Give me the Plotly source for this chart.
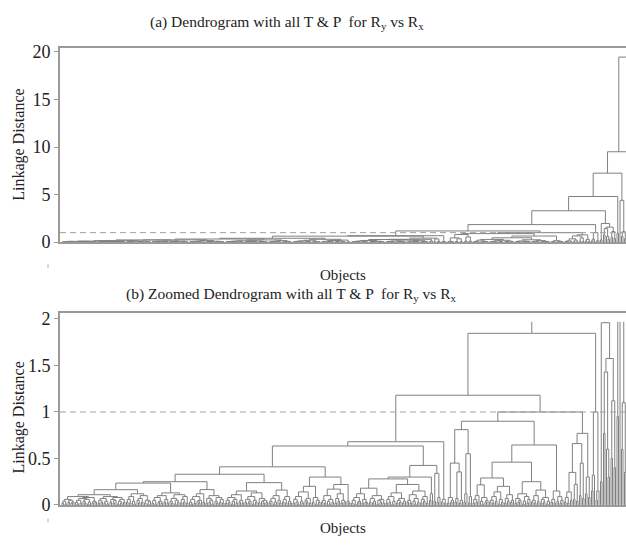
import sys
import plotly.graph_objects as go

sys.setrecursionlimit(5000)

# Merge height between each pair of neighbouring leaves, left to right
# (the cophenetic distance of adjacent objects). Each list is one branch of
# the tree; JOINS are the heights at which consecutive branches merge.
GAPS_P = [
    .02, .04, .01, .06, .03, .05, .02, .03, .09,
    .03, .01, .05, .02, .07, .04, .02, .06, .01, .03, .08, .02, .04, .03, .11,
    .02, .05, .03, .07, .02, .04, .01, .09, .03, .06, .02, .05, .08, .01, .04, .02, .06, .03, .164,
    .03, .06, .02, .09, .04, .01, .12, .05, .02, .07, .03, .10, .02, .05, .01, .04, .235,
    .02, .05, .01, .08, .03, .04, .02, .10, .03, .06, .02, .13,
    .04, .02, .07, .01, .05, .03, .11, .02, .06, .03, .09, .02, .25,
    .03, .01, .06, .02, .09, .04, .02, .05, .12, .03, .165,
    .02, .07, .03, .05, .01, .10, .04, .02, .08, .03, .06, .02, .33,
    .02, .05, .03, .08, .01, .04, .06, .02, .11, .03, .05, .02, .15,
    .03, .06, .02, .04, .09, .01, .05, .03, .13, .02, .07, .04, .02, .05, .03, .24,
    .02, .04, .07, .01, .03, .10, .05, .02, .16, .03, .06, .02, .09, .04, .02, .41,
    .02, .06, .03, .01, .09, .04, .02, .14, .05, .03, .07, .02, .20, .03, .08, .01, .05, .03, .30,
    .03, .05, .02, .10, .04, .01, .06, .03, .17, .02, .07, .04, .12, .02, .05, .03, .22, .04, .02,
]
GAPS_Q = [
    .02, .05, .01, .08, .03, .04, .12, .02, .06, .03, .02, .18,
    .03, .07, .02, .04, .10, .01, .05, .03, .06, .02, .28,
    .02, .06, .03, .09, .01, .04, .13, .02, .05, .03, .07, .02, .04, .22,
    .03, .05, .02, .11, .04, .01, .07, .03, .15, .02, .06, .04, .09, .02, .30,
    .05, .12, .425,
    .04, .34, .03, .08,
]
GAPS_O = [.03, .06, .02]
GAPS_X = [
    .02, .08, .03, .05, .45, .03, .07, .355, .02, .05, .81,
    .03, .12, .55, .02, .09, .90,
    .02, .06, .03, .10, .216, .04, .01, .08, .03, .05, .29,
    .03, .05, .02, .09, .04, .14, .01, .06, .03, .20, .02, .07, .04, .11, .03, .05, .46,
    .02, .07, .03, .05, .12, .01, .04, .09, .02, .06, .25,
    .03, .05, .02, .10, .04, .16, .02, .06, .03, .08, .01, .04, .645,
    .03, .06, .02, .15, .04, .09, .02, .05,
]
GAPS_Y = [.03, .08, .02, .14, .05, .35, .06, .22, .04, .66, .10, .45, .07, .77, .12, .30, .08]
GAPS_J = [.15, .32, 1.0, .05, .15]
GAPS_I = [.25, 1.96, .77, 1.43, .60, .30, 1.575, .50, 1.12, .40]
GAPS_G = [.95]
GAPS_E = [4.4, .60, 1.1, .35]
GAPS_C = [2.5, .4, .8, 1.5, .6]
GAPS_R = [.5, 2.0, .7, 3.0, 1.0]
JOINS = [.634, .68, 1.18, 1.0, 1.846, 3.3, 4.8, 7.25, 9.5, 19.45]

BRANCHES = [GAPS_P, GAPS_Q, GAPS_O, GAPS_X, GAPS_Y, GAPS_J, GAPS_I,
            GAPS_G, GAPS_E, GAPS_C, GAPS_R]

CUTOFF = 1.0
TICKS_A = [0, 5, 10, 15, 20]
TICKS_B = [0, 0.5, 1, 1.5, 2]
TICK_TEXT_B = ["0", "0.5", "1", "1.5", "2"]

TITLE_A = "(a) Dendrogram with all T &amp; P  for R<sub>y</sub> vs R<sub>x</sub>"
TITLE_B = "(b) Zoomed Dendrogram with all T &amp; P  for R<sub>y</sub> vs R<sub>x</sub>"
Y_TITLE = "Linkage Distance"
X_TITLE = "Objects"

# ---------------------------------------------------------------------------
gaps = []
for i, branch in enumerate(BRANCHES):
    gaps.extend(branch)
    if i < len(JOINS):
        gaps.append(JOINS[i])

nodes = []


def build(lo, hi):
    """Rebuild the binary tree: the largest neighbour gap is the top merge."""
    if lo == hi:
        return (float(lo), 0.0)
    k = max(range(lo, hi), key=lambda j: (gaps[j], -j))
    left = build(lo, k)
    right = build(k + 1, hi)
    h = gaps[k]
    nodes.append((left, right, h))
    return ((left[0] + right[0]) / 2.0, h)


build(0, len(gaps))


def link_paths(ceiling=None):
    xs, ys = [], []
    for (xl, hl), (xr, hr), h in nodes:
        if ceiling is None or h <= ceiling:
            xs += [xl, xl, xr, xr, None]
            ys += [hl, h, h, hr, None]
        else:
            for x0, h0 in ((xl, hl), (xr, hr)):
                if h0 < ceiling:
                    xs += [x0, x0, None]
                    ys += [h0, ceiling, None]
    return xs, ys


W, H = 626, 546
LEAF_PX = 1.5
FIRST_LEAF_PX = 62.0
X_LEFT_PX = 60.0
x_range = [(X_LEFT_PX - FIRST_LEAF_PX) / LEAF_PX, (W - FIRST_LEAF_PX) / LEAF_PX]


def py(px):
    return 1.0 - px / H


LINE = "#808080"
AXIS = "#9a9a9a"
FONT = "Times New Roman, Liberation Serif, DejaVu Serif, serif"
ZOOM_CEILING = 1.97

fig = go.Figure()
xa, ya = link_paths()
fig.add_trace(go.Scatter(x=xa, y=ya, mode="lines", line=dict(color=LINE, width=1),
                         xaxis="x", yaxis="y", hoverinfo="skip", showlegend=False))
xb, yb = link_paths(ZOOM_CEILING)
fig.add_trace(go.Scatter(x=xb, y=yb, mode="lines", line=dict(color=LINE, width=1),
                         xaxis="x2", yaxis="y2", hoverinfo="skip", showlegend=False))
for xax, yax in (("x", "y"), ("x2", "y2")):
    fig.add_trace(go.Scatter(x=x_range, y=[CUTOFF, CUTOFF], mode="lines",
                             line=dict(color="#a0a0a0", width=1, dash="6px,4px"),
                             xaxis=xax, yaxis=yax, hoverinfo="skip", showlegend=False))

xdom = [X_LEFT_PX / W, 1.0]
x_common = dict(domain=xdom, range=x_range, showticklabels=False, ticks="",
                showgrid=False, zeroline=False, showline=True, mirror=True,
                linecolor=AXIS, linewidth=2)
y_common = dict(showgrid=False, zeroline=False, showline=True, linecolor=AXIS,
                linewidth=2, ticks="outside", ticklen=4, tickcolor=AXIS,
                tickfont=dict(family=FONT, size=18, color="#222"))

fig.update_layout(
    width=W, height=H, margin=dict(l=0, r=0, t=0, b=0),
    paper_bgcolor="white", plot_bgcolor="white",
    font=dict(family=FONT, size=16, color="#222"),
    xaxis=dict(anchor="y", **x_common),
    yaxis=dict(anchor="x", domain=[py(243.3), py(43.3)], range=[0, 20.4],
               tickvals=TICKS_A, **y_common),
    xaxis2=dict(anchor="y2", **x_common),
    yaxis2=dict(anchor="x2", domain=[py(514.0), py(316.7)], range=[0, 2.06],
                tickvals=TICKS_B, ticktext=TICK_TEXT_B, **y_common),
)

txt = dict(family=FONT, size=15.5, color="#222")
ann = [
    dict(text=TITLE_A, x=287 / W, y=py(17), xref="paper", yref="paper",
         showarrow=False, font=txt, xanchor="center", yanchor="middle"),
    dict(text=TITLE_B, x=291 / W, y=py(297), xref="paper", yref="paper",
         showarrow=False, font=txt, xanchor="center", yanchor="middle"),
    dict(text=X_TITLE, x=343 / W, y=py(277), xref="paper", yref="paper",
         showarrow=False, font=dict(family=FONT, size=15, color="#222"),
         xanchor="center", yanchor="middle"),
    dict(text=X_TITLE, x=343 / W, y=py(538), xref="paper", yref="paper",
         showarrow=False, font=dict(family=FONT, size=15, color="#222"),
         xanchor="center", yanchor="middle"),
    dict(text=Y_TITLE, x=19 / W, y=py(143), xref="paper", yref="paper",
         showarrow=False, font=dict(family=FONT, size=16, color="#222"),
         textangle=-90, xanchor="center", yanchor="middle"),
    dict(text=Y_TITLE, x=19 / W, y=py(424), xref="paper", yref="paper",
         showarrow=False, font=dict(family=FONT, size=16, color="#222"),
         textangle=-90, xanchor="center", yanchor="middle"),
]
fig.update_layout(annotations=ann)

# small stray tick under each panel's left edge
for y0 in (266, 528):
    fig.add_shape(type="line", xref="paper", yref="paper",
                  x0=48 / W, x1=48 / W, y0=py(y0), y1=py(y0 + 4),
                  line=dict(color="#b0b0b0", width=1))

fig.write_html("out.html")
